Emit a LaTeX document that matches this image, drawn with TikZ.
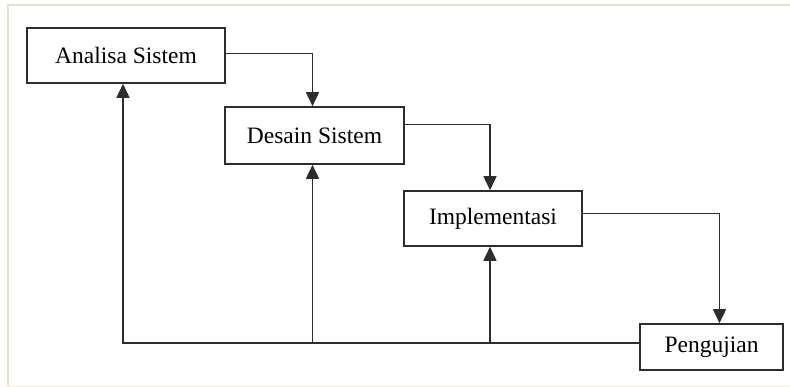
\documentclass[tikz,border=0pt]{standalone}
\usepackage{fontspec}
\setmainfont{Liberation Serif}
\usepackage{tikz}
\usetikzlibrary{arrows.meta,positioning,calc}
\usepackage{xcolor}
\definecolor{framebeige}{RGB}{228,224,206}
\definecolor{linegray}{RGB}{45,45,45}

\begin{document}
\begin{tikzpicture}[
    x=1pt, y=-1pt,
    stage/.style={rectangle, draw=linegray, line width=1.6pt, fill=white, inner sep=0pt, font=\fontsize{23.5}{28}\selectfont},
    arrow/.style={-{Triangle[width=13pt,length=14pt]}, line width=1.6pt, draw=linegray}
]
    \useasboundingbox (0,0) rectangle (790,387);
    % Frame
    \draw[framebeige, line width=1.5pt] (8,386) -- (8,5) -- (790,5);
    \draw[framebeige!60, line width=0.8pt] (8,386) -- (790,386);

    % Stages
    \node[stage, minimum width=198pt, minimum height=55pt] (analisa) at (126,55.5) {Analisa Sistem};
    \node[stage, minimum width=179pt, minimum height=57pt] (desain) at (314.5,135.5) {Desain Sistem};
    \node[stage, minimum width=178pt, minimum height=55pt] (impl) at (493,218.5) {Implementasi};
    \node[stage, minimum width=143pt, minimum height=46pt] (uji) at (711.5,347) {Pengujian};

    % Edges
    \draw[arrow] ([yshift=2pt]analisa.east) -| ([xshift=-2pt]desain.north);
    \draw[arrow] ([yshift=11pt]desain.east) -| ([xshift=-3pt]impl.north);
    \draw[arrow] ([yshift=5pt]impl.east) -| ($(uji.north)+(8,0)$);

    % Feedback
    \coordinate (back) at ([yshift=4pt]uji.west);
    \coordinate (desainin) at ([xshift=-2pt]desain.south);
    \coordinate (implin) at ([xshift=-3pt]impl.south);
    \draw[arrow] (back) -| ([xshift=-3pt]analisa.south);
    \draw[arrow] (desainin |- back) -- (desainin);
    \draw[arrow] (implin |- back) -- (implin);
\end{tikzpicture}
\end{document}
